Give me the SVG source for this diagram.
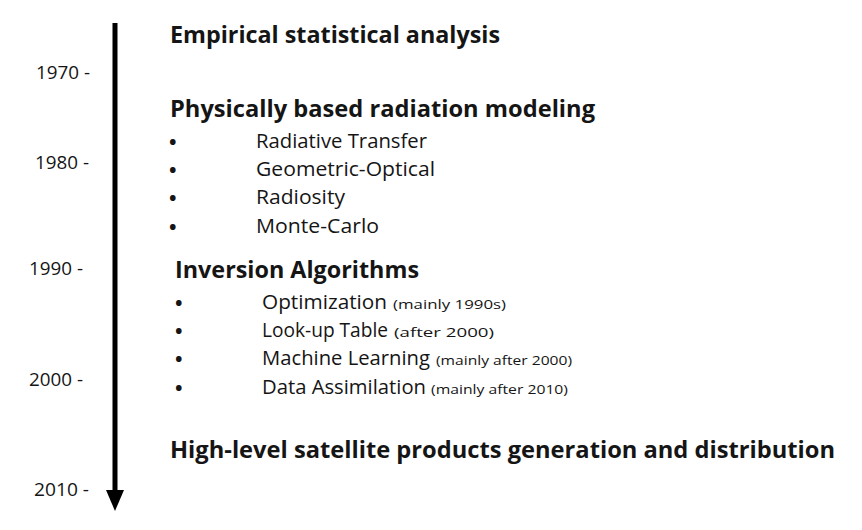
<svg xmlns="http://www.w3.org/2000/svg" width="862" height="530" viewBox="0 0 862 530">
<style>
text{font-family:"Open Sans","Noto Sans","Liberation Sans",sans-serif;fill:#151515}
.yr{font-size:18px}
.h{font-size:24px;font-weight:bold}
.it{font-size:20px}
.sm{font-size:13px}
.b{font-size:20px;font-weight:bold}
</style>
<rect width="862" height="530" fill="#fff"/>
<g id="connectors">
<line x1="115" y1="23" x2="115" y2="490" stroke="#000" stroke-width="5"/>
<path d="M106,490 L124,490 L115,511 Z" fill="#000"/>
</g>
<g id="years">
<text class="yr" x="36" y="79" textLength="54" lengthAdjust="spacingAndGlyphs">1970 -</text>
<text class="yr" x="35" y="169" textLength="54" lengthAdjust="spacingAndGlyphs">1980 -</text>
<text class="yr" x="29" y="275" textLength="54" lengthAdjust="spacingAndGlyphs">1990 -</text>
<text class="yr" x="29" y="386" textLength="54" lengthAdjust="spacingAndGlyphs">2000 -</text>
<text class="yr" x="34" y="496" textLength="55" lengthAdjust="spacingAndGlyphs">2010 -</text>
</g>
<g id="empirical">
<text class="h" x="170" y="43" textLength="330" lengthAdjust="spacingAndGlyphs">Empirical statistical analysis</text>
</g>
<g id="physical">
<text class="h" x="170" y="117" textLength="425" lengthAdjust="spacingAndGlyphs">Physically based radiation modeling</text>
<text class="b" x="169" y="149">•</text>
<text class="it" x="256" y="148" textLength="171" lengthAdjust="spacingAndGlyphs">Radiative Transfer</text>
<text class="b" x="169" y="177">•</text>
<text class="it" x="256" y="176" textLength="179" lengthAdjust="spacingAndGlyphs">Geometric-Optical</text>
<text class="b" x="169" y="205">•</text>
<text class="it" x="256" y="204" textLength="89" lengthAdjust="spacingAndGlyphs">Radiosity</text>
<text class="b" x="169" y="234">•</text>
<text class="it" x="256" y="233" textLength="123" lengthAdjust="spacingAndGlyphs">Monte-Carlo</text>
</g>
<g id="inversion">
<text class="h" x="175" y="278" textLength="244" lengthAdjust="spacingAndGlyphs">Inversion Algorithms</text>
<text class="b" x="175" y="310">•</text>
<text class="it" x="262" y="309" textLength="125" lengthAdjust="spacingAndGlyphs">Optimization</text>
<text class="sm" x="393" y="309" textLength="113" lengthAdjust="spacingAndGlyphs">(mainly 1990s)</text>
<text class="b" x="175" y="338">•</text>
<text class="it" x="262" y="337" textLength="126" lengthAdjust="spacingAndGlyphs">Look-up Table</text>
<text class="sm" x="394" y="337" textLength="100" lengthAdjust="spacingAndGlyphs">(after 2000)</text>
<text class="b" x="175" y="366">•</text>
<text class="it" x="262" y="365" textLength="168" lengthAdjust="spacingAndGlyphs">Machine Learning</text>
<text class="sm" x="436" y="365" textLength="136" lengthAdjust="spacingAndGlyphs">(mainly after 2000)</text>
<text class="b" x="175" y="395">•</text>
<text class="it" x="262" y="394" textLength="164" lengthAdjust="spacingAndGlyphs">Data Assimilation</text>
<text class="sm" x="431" y="394" textLength="137" lengthAdjust="spacingAndGlyphs">(mainly after 2010)</text>
</g>
<g id="products">
<text class="h" x="170" y="458" textLength="665" lengthAdjust="spacingAndGlyphs">High-level satellite products generation and distribution</text>
</g>
</svg>
